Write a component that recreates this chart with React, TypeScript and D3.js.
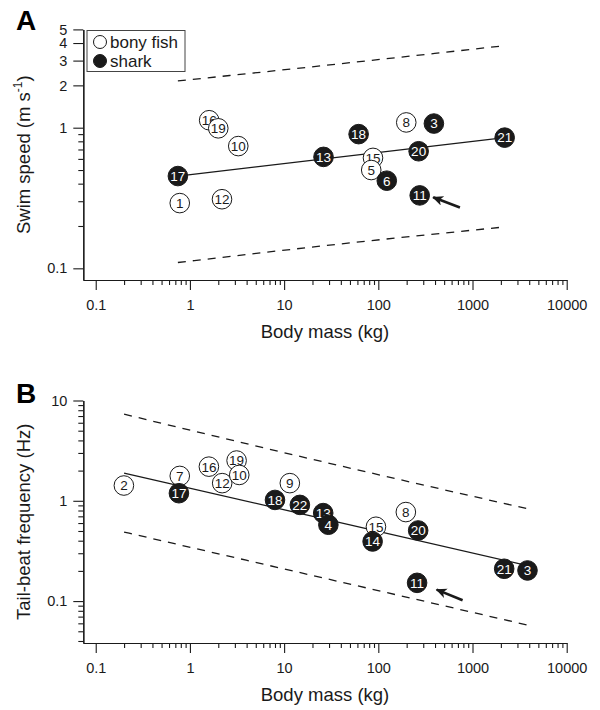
import React, { useEffect, useRef } from 'react';
import * as d3 from 'd3';

// panel A: swim speed vs body mass
const speedId = [1, 12, 16, 19, 10, 15, 5, 8, 17, 13, 18, 6, 20, 3, 11, 21];
const speedMass = [0.78, 2.19, 1.6, 2.0, 3.26, 87.8, 84.1, 198, 0.745, 26.2, 61.8, 123, 268, 389, 275, 2195];
const speedVal = [0.291, 0.31, 1.13, 0.99, 0.74, 0.61, 0.5, 1.09, 0.453, 0.62, 0.9, 0.42, 0.68, 1.07, 0.33, 0.85];
const speedType = ['bony', 'bony', 'bony', 'bony', 'bony', 'bony', 'bony', 'bony',
  'shark', 'shark', 'shark', 'shark', 'shark', 'shark', 'shark', 'shark'];
const speedFit = [[0.745, 0.453], [2195, 0.85]];
const speedUpper = [[0.745, 2.15], [36, 2.83], [2195, 3.83]];
const speedLower = [[0.745, 0.11], [36, 0.148], [2195, 0.197]];
const speedArrow = [[735, 0.271], [382, 0.32]];

// panel B: tail-beat frequency vs body mass
const freqId = [2, 7, 16, 19, 12, 10, 9, 15, 8, 17, 18, 22, 13, 4, 14, 20, 21, 3, 11];
const freqMass = [0.199, 0.78, 1.59, 3.13, 2.2, 3.34, 11.5, 94.4, 196, 0.764, 8.0, 14.7, 26.0, 29.5, 87.0, 265, 2169, 3835, 258];
const freqVal = [1.42, 1.77, 2.19, 2.52, 1.5, 1.81, 1.5, 0.551, 0.772, 1.19, 1.02, 0.91, 0.754, 0.577, 0.393, 0.506, 0.21, 0.202, 0.152];
const freqType = ['bony', 'bony', 'bony', 'bony', 'bony', 'bony', 'bony', 'bony', 'bony',
  'shark', 'shark', 'shark', 'shark', 'shark', 'shark', 'shark', 'shark', 'shark', 'shark'];
const freqFit = [[0.2, 1.89], [3835, 0.226]];
const freqUpper = [[0.2, 7.3], [9, 3.09], [3900, 0.83]];
const freqLower = [[0.2, 0.488], [9, 0.214], [3900, 0.0575]];
const freqArrow = [[785, 0.102], [416, 0.13]];

const massTicks = [0.1, 1, 10, 100, 1000, 10000];
const speedTicks = [0.1, 1, 2, 3, 4, 5];
const freqTicks = [0.1, 1, 10];

const FONT = 'Liberation Sans, Arial, Helvetica, sans-serif';
const INK = '#1a1a1a';

function App() {
  const ref = useRef<SVGSVGElement>(null);

  useEffect(() => {
    const svg = d3.select(ref.current);
    svg.selectAll('*').remove();

    svg.append('defs').append('marker')
      .attr('id', 'arrowhead')
      .attr('markerUnits', 'userSpaceOnUse')
      .attr('markerWidth', 14).attr('markerHeight', 14)
      .attr('refX', 10).attr('refY', 5)
      .attr('orient', 'auto')
      .append('path')
      .attr('d', 'M0,0 L11,5 L0,10 L3,5 Z')
      .attr('fill', INK);

    const x = d3.scaleLog().domain([0.0738, 10000]).range([83.3, 566.7]);

    drawPanel(svg, {
      letter: 'A', letterY: 30,
      x, y: d3.scaleLog().domain([0.0826, 5]).range([280, 29.4]),
      yTicks: speedTicks,
      yMinor: [0.2, 0.3, 0.4, 0.5, 0.6, 0.7, 0.8, 0.9],
      ids: speedId, mass: speedMass, vals: speedVal, types: speedType,
      fit: speedFit, upper: speedUpper, lower: speedLower, arrow: speedArrow,
      title: 'Swim speed (m s', sup: '-1', titleEnd: ')',
    });

    drawPanel(svg, {
      letter: 'B', letterY: 403,
      x, y: d3.scaleLog().domain([0.0382, 10]).range([643, 400.5]),
      yTicks: freqTicks,
      yMinor: [0.04, 0.05, 0.06, 0.07, 0.08, 0.09, 0.2, 0.3, 0.4, 0.5, 0.6, 0.7, 0.8, 0.9,
        2, 3, 4, 5, 6, 7, 8, 9],
      ids: freqId, mass: freqMass, vals: freqVal, types: freqType,
      fit: freqFit, upper: freqUpper, lower: freqLower, arrow: freqArrow,
      title: 'Tail-beat frequency (Hz)', sup: '', titleEnd: '',
    });

    // legend
    const lg = svg.append('g');
    lg.append('rect').attr('x', 87).attr('y', 30.5).attr('width', 98).attr('height', 41)
      .attr('fill', 'white').attr('stroke', '#444').attr('stroke-width', 1);
    [['bony fish', 'white', 42], ['shark', INK, 61]].forEach(([label, fill, cy]) => {
      lg.append('circle').attr('cx', 100).attr('cy', cy).attr('r', 6.5)
        .attr('fill', fill as string).attr('stroke', INK).attr('stroke-width', 1);
      lg.append('text').attr('x', 110).attr('y', (cy as number) + 6)
        .attr('font-family', FONT).attr('font-size', 17).attr('fill', INK)
        .text(label as string);
    });
  }, []);

  return (
    <svg ref={ref} width={600} height={710}
      style={{ position: 'absolute', left: 0, top: 0, background: 'white' }} />
  );
}

function drawPanel(svg: any, p: any) {
  const { x, y } = p;
  const g = svg.append('g');
  const [yBottom, yTop] = y.range();

  // axes: major ticks with labels, minor ticks without
  const xMinor = x.ticks().filter((v: number) => v >= 0.1 && !massTicks.includes(v));
  const xAxis = g.append('g').attr('transform', `translate(0,${yBottom})`);
  xAxis.call(d3.axisBottom(x).tickValues(massTicks).tickFormat(d3.format('~g') as any)
    .tickSize(10).tickSizeOuter(0).tickPadding(10));
  xAxis.call((s: any) => s.append('g').call(d3.axisBottom(x).tickValues(xMinor)
    .tickFormat(() => '').tickSize(5).tickSizeOuter(0)));

  const yAxis = g.append('g').attr('transform', `translate(${x.range()[0]},0)`);
  yAxis.call(d3.axisLeft(y).tickValues(p.yTicks).tickFormat(d3.format('~g') as any)
    .tickSize(10).tickSizeOuter(0).tickPadding(6));
  yAxis.call((s: any) => s.append('g').call(d3.axisLeft(y).tickValues(p.yMinor)
    .tickFormat(() => '').tickSize(5).tickSizeOuter(0)));

  g.selectAll('.domain').attr('stroke', INK).attr('stroke-width', 1.2);
  g.selectAll('.tick line').attr('stroke', INK).attr('stroke-width', 1.1);
  g.selectAll('.tick text').attr('font-family', FONT).attr('font-size', 14.5).attr('fill', INK);

  // axis titles
  g.append('text')
    .attr('x', (x.range()[0] + x.range()[1]) / 2).attr('y', yBottom + 58)
    .attr('text-anchor', 'middle').attr('font-family', FONT).attr('font-size', 18.5)
    .attr('fill', INK).text('Body mass (kg)');

  const yt = g.append('text')
    .attr('transform', `translate(30,${(yBottom + yTop) / 2}) rotate(-90)`)
    .attr('text-anchor', 'middle').attr('font-family', FONT).attr('font-size', 18.5)
    .attr('fill', INK);
  yt.append('tspan').text(p.title);
  if (p.sup) {
    yt.append('tspan').attr('font-size', 12).attr('dy', -8).text(p.sup);
    yt.append('tspan').attr('dy', 8).text(p.titleEnd);
  }

  g.append('text').attr('x', 16).attr('y', p.letterY)
    .attr('font-family', FONT).attr('font-weight', 'bold').attr('font-size', 28)
    .attr('fill', '#000').text(p.letter);

  // regression line and prediction bands
  const line = d3.line<number[]>().x((d) => x(d[0])).y((d) => y(d[1]));
  g.append('path').attr('d', line(p.fit)).attr('fill', 'none')
    .attr('stroke', INK).attr('stroke-width', 1.3);
  [p.upper, p.lower].forEach((band: number[][]) => {
    g.append('path').attr('d', line.curve(d3.curveMonotoneX)(band)).attr('fill', 'none')
      .attr('stroke', INK).attr('stroke-width', 1.3).attr('stroke-dasharray', '8,7');
  });

  // points
  const pts = g.selectAll('.pt').data(p.ids.map((id: number, i: number) => ({
    id, m: p.mass[i], v: p.vals[i], t: p.types[i],
  }))).enter().append('g')
    .attr('transform', (d: any) => `translate(${x(d.m)},${y(d.v)})`);
  pts.append('circle').attr('r', 9.8)
    .attr('fill', (d: any) => (d.t === 'shark' ? INK : 'white'))
    .attr('stroke', INK).attr('stroke-width', 1);
  pts.append('text')
    .attr('text-anchor', 'middle').attr('dy', '0.36em')
    .attr('font-family', FONT).attr('font-size', 13.5)
    .attr('fill', (d: any) => (d.t === 'shark' ? 'white' : INK))
    .text((d: any) => d.id);

  // arrow pointing at point 11
  g.append('line')
    .attr('x1', x(p.arrow[0][0])).attr('y1', y(p.arrow[0][1]))
    .attr('x2', x(p.arrow[1][0])).attr('y2', y(p.arrow[1][1]))
    .attr('stroke', INK).attr('stroke-width', 2.6)
    .attr('marker-end', 'url(#arrowhead)');
}

export default App;
